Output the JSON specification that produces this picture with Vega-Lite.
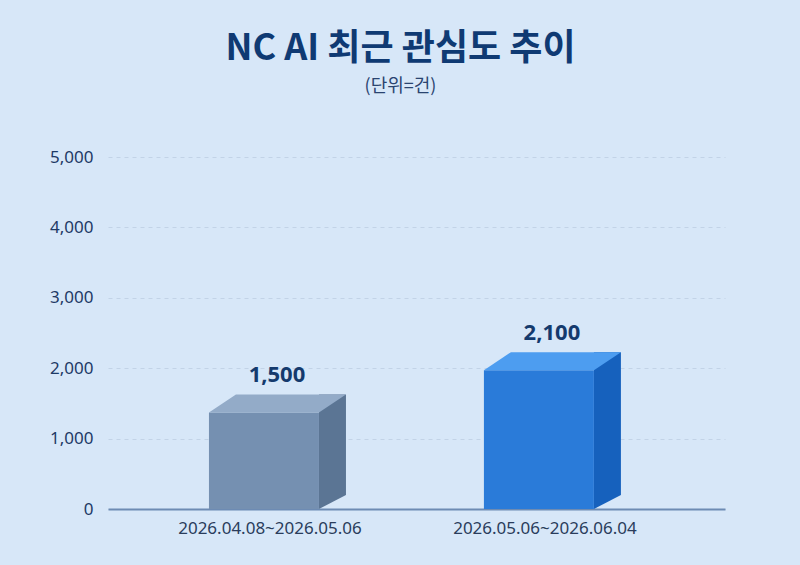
{
  "$schema": "https://vega.github.io/schema/vega-lite/v6.json",
  "autosize": "none",
  "width": 617,
  "height": 352,
  "padding": {"left": 108, "top": 157, "right": 75, "bottom": 56},
  "background": "#d7e7f8",
  "title": {
    "text": "NC AI 최근 관심도 추이",
    "subtitle": "(단위=건)",
    "anchor": "middle",
    "frame": "group",
    "dx": -16,
    "offset": 51,
    "font": "Noto Sans CJK KR",
    "fontSize": 36,
    "fontWeight": "bold",
    "color": "#0f3a73",
    "subtitleFont": "Noto Sans CJK KR",
    "subtitleFontSize": 18,
    "subtitleColor": "#2a4470",
    "subtitlePadding": 10
  },
  "data": {
    "values": [
      {"period": "2026.04.08~2026.05.06", "count": 1500},
      {"period": "2026.05.06~2026.06.04", "count": 2100}
    ]
  },
  "encoding": {
    "x": {
      "field": "period",
      "type": "nominal",
      "sort": null,
      "scale": {"paddingInner": 0, "paddingOuter": 0.122, "align": 0.365},
      "axis": {
        "title": null,
        "labelAngle": 0,
        "labelFont": "Noto Sans",
        "labelFontSize": 17,
        "labelLimit": 400,
        "labelColor": "#2a3d5c",
        "labelPadding": 11,
        "ticks": false,
        "domainColor": "#6d8bb3",
        "domainWidth": 2,
        "grid": false
      }
    }
  },
  "layer": [
    {
      "mark": {"type": "bar", "width": 27, "xOffset": 62.5, "yOffset": -9, "y2Offset": -14},
      "encoding": {
        "y": {
          "field": "count",
          "type": "quantitative",
          "scale": {"domain": [0, 5000], "nice": false},
          "axis": {
            "title": null,
            "values": [0, 1000, 2000, 3000, 4000, 5000],
            "format": ",.0f",
            "labelFont": "Noto Sans",
            "labelFontSize": 17,
            "labelColor": "#1e3a66",
            "labelPadding": 15,
            "ticks": false,
            "domain": false,
            "gridColor": "#c2d3e7",
            "gridDash": [4, 4],
            "gridWidth": 1
          }
        },
        "y2": {"datum": 0},
        "color": {"field": "period", "type": "nominal", "sort": null, "scale": {"range": ["#5b7594", "#1661bd"]}, "legend": null}
      }
    },
    {
      "mark": {"type": "point", "filled": true, "opacity": 1, "strokeWidth": 0, "size": 40000, "shape": "M 0.49 0 L 0.76 -0.14 L 0.49 -0.14 Z"},
      "encoding": {
        "y": {"datum": 0, "type": "quantitative"},
        "color": {"field": "period", "type": "nominal", "sort": null, "scale": {"range": ["#5b7594", "#1661bd"]}, "legend": null}
      }
    },
    {
      "mark": {"type": "bar", "width": 110, "xOffset": -6, "yOffset": 9},
      "encoding": {
        "y": {"field": "count", "type": "quantitative"},
        "y2": {"datum": 0},
        "color": {"field": "period", "type": "nominal", "sort": null, "scale": {"range": ["#7590b1", "#2a7bd9"]}, "legend": null}
      }
    },
    {
      "mark": {"type": "point", "filled": true, "opacity": 1, "strokeWidth": 0, "size": 40000, "shape": "M -0.61 0.09 L 0.49 0.09 L 0.76 -0.09 L -0.34 -0.09 Z"},
      "encoding": {
        "y": {"field": "count", "type": "quantitative"},
        "color": {"field": "period", "type": "nominal", "sort": null, "scale": {"range": ["#93abc8", "#4d9df0"]}, "legend": null}
      }
    },
    {
      "mark": {"type": "text", "baseline": "bottom", "yOffset": -16, "xOffset": 7, "font": "Noto Sans", "fontSize": 22, "fontWeight": "bold", "color": "#143a6d"},
      "encoding": {
        "y": {"field": "count", "type": "quantitative"},
        "text": {"field": "count", "type": "quantitative", "format": ",.0f"}
      }
    }
  ],
  "resolve": {"scale": {"color": "independent"}},
  "config": {"view": {"stroke": null}}
}
